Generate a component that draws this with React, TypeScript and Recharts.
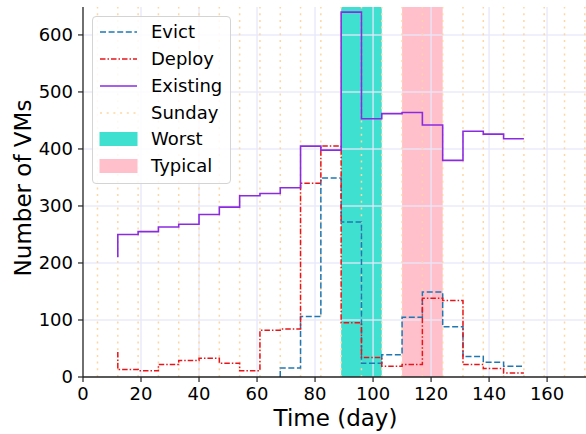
import React from 'react';
import {
  LineChart,
  Line,
  XAxis,
  YAxis,
  ReferenceArea,
  ReferenceLine,
  Legend,
} from 'recharts';

// ---- data ----
const days = [12, 19, 26, 33, 40, 47, 54, 61, 68, 75, 82, 89, 96, 103, 110, 117, 124, 131, 138, 145, 152];
const evict: (number | null)[] = [null, null, null, null, null, null, null, null, 0, 16, 106, 349, 272, 24, 39, 105, 149, 88, 36, 26, 19];
const deploy = [44, 13, 11, 22, 29, 33, 24, 11, 82, 84, 340, 405, 95, 34, 19, 22, 138, 134, 22, 15, 7];
const existing = [210, 250, 255, 263, 268, 285, 298, 318, 322, 332, 405, 398, 640, 453, 462, 464, 442, 380, 431, 426, 418];

const sundays = [5, 12, 19, 26, 33, 40, 47, 54, 61, 68, 75, 82, 89, 96, 103, 110, 117, 124, 131, 138, 145, 152, 159, 166, 173];
const worstSpan = [89, 103];
const typicalSpan = [110, 124];

const xTicks = [0, 20, 40, 60, 80, 100, 120, 140, 160];
const yTicks = [0, 100, 200, 300, 400, 500, 600];
const xDomain = [0, 174.1];
const yDomain = [0, 649];

const legendLabels = ['Evict', 'Deploy', 'Existing', 'Sunday', 'Worst', 'Typical'];

// ---- styles ----
const FONT = '"DejaVu Sans", "Liberation Sans", sans-serif';
const C_EVICT = '#1f77b4';
const C_DEPLOY = '#e8141a';
const C_EXIST = '#8A2BE2';
const C_SUNDAY = '#FFD6A0';
const C_WORST = '#40E0D0';
const C_TYPICAL = '#FFC0CB';
const C_GRID = '#E6E6FA';
const DASH_EVICT = '6 2.6';
const DASH_DEPLOY = '5.5 2 1.5 2';
const DASH_SUNDAY = '2 4.7';

const rows = days.map((d, i) => ({
  day: d,
  evict: evict[i],
  deploy: deploy[i],
  existing: existing[i],
}));

const legendStyles: Record<string, any> = {
  Evict: { kind: 'line', color: C_EVICT, dash: DASH_EVICT },
  Deploy: { kind: 'line', color: C_DEPLOY, dash: DASH_DEPLOY },
  Existing: { kind: 'line', color: C_EXIST, dash: undefined },
  Sunday: { kind: 'line', color: C_SUNDAY, dash: DASH_SUNDAY },
  Worst: { kind: 'patch', color: C_WORST },
  Typical: { kind: 'patch', color: C_TYPICAL },
};

const LegendBox = () => (
  <div
    style={{
      position: 'relative',
      width: 139,
      height: 168,
      boxSizing: 'border-box',
      border: '1px solid #d4d4d4',
      borderRadius: 4,
      background: 'rgba(255,255,255,0.85)',
      fontFamily: FONT,
      fontSize: 18,
      color: '#000',
    }}
  >
    {legendLabels.map((name, i) => {
      const s = legendStyles[name];
      const cy = 15.2 + i * 26.8;
      return (
        <div
          key={name}
          style={{
            position: 'absolute',
            left: 0,
            top: cy - 13,
            height: 26,
            width: 139,
            display: 'flex',
            alignItems: 'center',
          }}
        >
          <svg width={58} height={26} style={{ display: 'block' }}>
            {s.kind === 'line' ? (
              <line x1={7} x2={44} y1={13} y2={13} stroke={s.color} strokeWidth={1.5} strokeDasharray={s.dash} />
            ) : (
              <rect x={6.5} y={6} width={38} height={14} fill={s.color} />
            )}
          </svg>
          <span style={{ lineHeight: '26px', whiteSpace: 'nowrap' }}>{name}</span>
        </div>
      );
    })}
  </div>
);

const XTick = (props: any) => {
  const { x, y, payload } = props;
  return (
    <text x={x} y={y} dy="0.73em" textAnchor="middle" fontFamily={FONT} fontSize={18} fill="#000">
      {payload.value}
    </text>
  );
};

const YTick = (props: any) => {
  const { x, y, payload } = props;
  return (
    <text x={x} y={y} dy="0.36em" textAnchor="end" fontFamily={FONT} fontSize={18} fill="#000">
      {payload.value}
    </text>
  );
};

export default function App() {
  return (
    <div style={{ position: 'absolute', left: 0, top: 0, width: 586, height: 434, overflow: 'hidden', background: '#fff' }}>
      <LineChart width={588} height={434} data={rows} margin={{ top: 7, right: 0, bottom: 0, left: 0 }}>
        <XAxis
          dataKey="day"
          type="number"
          domain={xDomain}
          ticks={xTicks}
          allowDataOverflow
          height={57}
          tickSize={5}
          tickMargin={5}
          tick={<XTick />}
          stroke="#222"
          axisLine={{ stroke: '#222', strokeWidth: 1.3 }}
          tickLine={{ stroke: '#222', strokeWidth: 1.2 }}
          label={(p: any) => {
            const vb = p.viewBox || {};
            const cx = (vb.x ?? 83) + (vb.width ?? 505) / 2;
            return (
              <text x={cx} y={426} textAnchor="middle" fontFamily={FONT} fontSize={23} fill="#000">
                Time (day)
              </text>
            );
          }}
        />
        <XAxis
          xAxisId="top"
          orientation="top"
          dataKey="day"
          type="number"
          domain={xDomain}
          height={0}
          tick={false}
          tickLine={false}
          axisLine={{ stroke: '#222', strokeWidth: 1.3 }}
        />
        <YAxis
          type="number"
          domain={yDomain}
          ticks={yTicks}
          allowDataOverflow
          width={83}
          tickSize={5}
          tickMargin={5}
          tick={<YTick />}
          axisLine={{ stroke: '#222', strokeWidth: 1.3 }}
          tickLine={{ stroke: '#222', strokeWidth: 1.2 }}
          label={() => (
            <text
              x={31}
              y={188}
              transform="rotate(-90, 31, 188)"
              textAnchor="middle"
              fontFamily={FONT}
              fontSize={23}
              fill="#000"
            >
              Number of VMs
            </text>
          )}
        />

        <ReferenceArea x1={worstSpan[0]} x2={worstSpan[1]} fill={C_WORST} fillOpacity={1} stroke="none" ifOverflow="hidden" />
        <ReferenceArea x1={typicalSpan[0]} x2={typicalSpan[1]} fill={C_TYPICAL} fillOpacity={1} stroke="none" ifOverflow="hidden" />

        {xTicks.filter((t) => t > 0).map((t) => (
          <ReferenceLine key={'gx' + t} x={t} stroke={C_GRID} strokeOpacity={0.85} strokeWidth={1.5} />
        ))}
        {yTicks.filter((t) => t > 0).map((t) => (
          <ReferenceLine key={'gy' + t} y={t} stroke={C_GRID} strokeOpacity={0.85} strokeWidth={1.5} />
        ))}
        {sundays.map((d) => (
          <ReferenceLine key={'s' + d} x={d} stroke={C_SUNDAY} strokeWidth={1.5} strokeDasharray={DASH_SUNDAY} />
        ))}

        <Line
          type="stepBefore"
          dataKey="evict"
          stroke={C_EVICT}
          strokeWidth={1.5}
          strokeDasharray={DASH_EVICT}
          dot={false}
          activeDot={false}
          isAnimationActive={false}
        />
        <Line
          type="stepBefore"
          dataKey="deploy"
          stroke={C_DEPLOY}
          strokeWidth={1.5}
          strokeDasharray={DASH_DEPLOY}
          dot={false}
          activeDot={false}
          isAnimationActive={false}
        />
        <Line
          type="stepBefore"
          dataKey="existing"
          stroke={C_EXIST}
          strokeWidth={1.6}
          dot={false}
          activeDot={false}
          isAnimationActive={false}
        />

        <Legend
          layout="vertical"
          align="center"
          verticalAlign="middle"
          content={() => <LegendBox />}
          wrapperStyle={{ position: 'absolute', left: 92, top: 16, width: 139, height: 168 }}
        />
      </LineChart>
    </div>
  );
}
